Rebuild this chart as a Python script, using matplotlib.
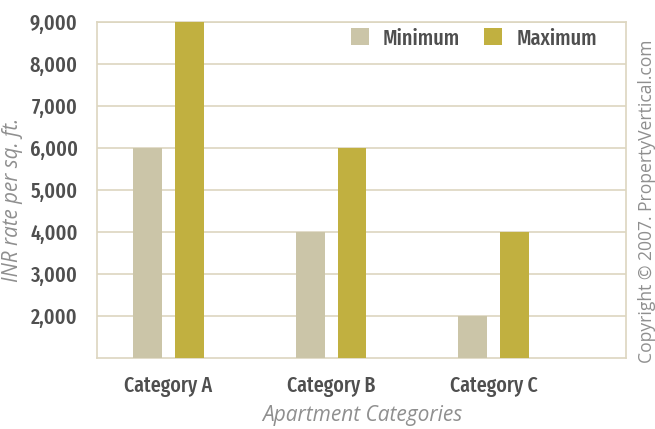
import matplotlib
matplotlib.use("Agg")
import matplotlib.pyplot as plt
import numpy as np

categories = ["Category A", "Category B", "Category C"]
minimum = [6000, 4000, 2000]
maximum = [9000, 6000, 4000]
yticks = [2000, 3000, 4000, 5000, 6000, 7000, 8000, 9000]

cond = ["Fira Sans Extra Condensed", "DejaVu Sans"]
light = ["Open Sans", "DejaVu Sans"]
txtc = "#4f4f4f"
greyc = "#8f8f8f"

fig = plt.figure(figsize=(6.55, 4.29), dpi=100)
ax = fig.add_axes([97/655, 1-358/429, (626-97)/655, (358-22)/429])
renderer = fig.canvas.get_renderer()


def fit(t, target, vertical=False):
    bb = t.get_window_extent(renderer)
    cur = bb.height if vertical else bb.width
    t.set_fontsize(t.get_fontsize() * target / cur)
    return t.get_fontsize()


x = np.arange(len(categories))
off = 0.129
w = 0.178
ax.bar(x - off, minimum, w, color="#cbc5a8", label="Minimum", zorder=3)
ax.bar(x + off, maximum, w, color="#c1b040", label="Maximum", zorder=3)

ax.set_xlim(-0.44, 2.815)
ax.set_ylim(1000, 9000)
ax.set_yticks(yticks)
ax.set_yticklabels([f"{v:,}" for v in yticks])
ax.set_xticks(x)
ax.set_xticklabels(categories)
ax.grid(axis="y", color="#ddd6c0", linewidth=1.2, zorder=0)
for s in ax.spines.values():
    s.set_color("#ddd6c0")
    s.set_linewidth(1.2)
ax.tick_params(axis="y", length=0, pad=14)
ax.tick_params(axis="x", length=0, pad=13)
for lab in ax.get_yticklabels() + ax.get_xticklabels():
    lab.set_fontfamily(cond)
    lab.set_fontsize(18)
    lab.set_fontweight(500)
    lab.set_color(txtc)
fig.canvas.draw()
xs = fit(ax.get_xticklabels()[0], 88)
ys = fit(ax.get_yticklabels()[-1], 48)
for lab in ax.get_xticklabels():
    lab.set_fontsize(xs)
for lab in ax.get_yticklabels():
    lab.set_fontsize(ys)

yl = fig.text(13/655, 1-200/429, "INR rate per sq. ft.", rotation=90,
              ha="center", va="center", fontfamily=light, fontstyle="italic",
              fontsize=12, color=greyc)
fit(yl, 164, vertical=True)
xl = fig.text(362/655, 1-416/429, "Apartment Categories", ha="center",
              va="center", fontfamily=light, fontstyle="italic",
              fontsize=12, color=greyc)
fit(xl, 200)

probe = fig.text(0, 0, "Minimum", fontfamily=cond, fontweight=500, fontsize=16)
ls = fit(probe, 77)
probe.remove()

leg = ax.legend(loc="upper right", ncol=2, frameon=False,
                prop={"family": cond, "size": ls, "weight": 500},
                handlelength=0.8, handleheight=0.8, columnspacing=1.1,
                handletextpad=0.65, borderaxespad=0, borderpad=0,
                bbox_to_anchor=(0.945, 0.983))
for t in leg.get_texts():
    t.set_color(txtc)

cp = fig.text(647/655, 1-201/429, "Copyright © 2007. PropertyVertical.com",
              rotation=90, ha="center", va="center", fontfamily=light,
              fontsize=12, color=greyc)
fit(cp, 322, vertical=True)

fig.savefig("out.png", dpi=100, facecolor="white")
